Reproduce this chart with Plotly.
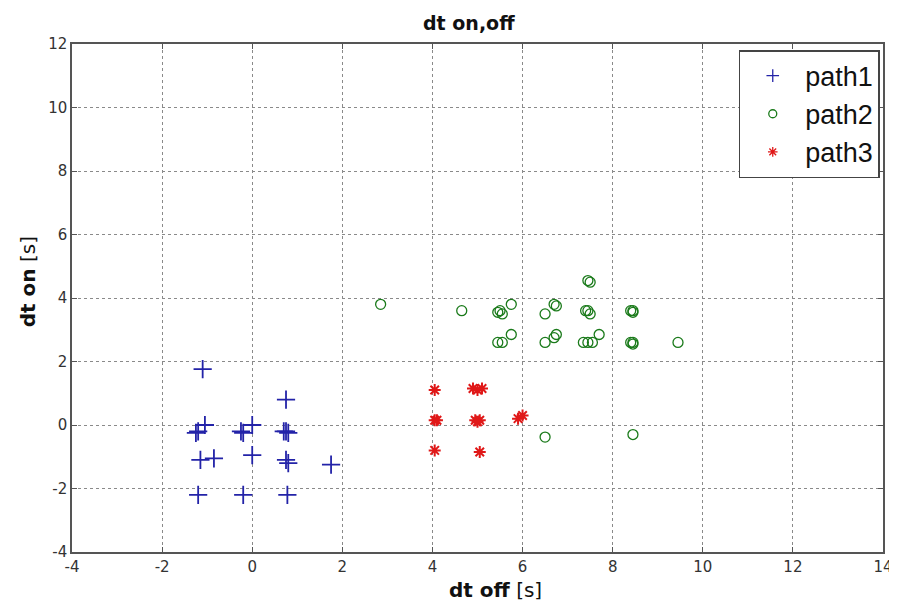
import plotly.graph_objects as go

path1_x = [-1.1, 0.75, -1.25, -1.2, -1.05, -0.25, -0.2, 0.0, 0.7, 0.8, 0.75,
           -1.15, -0.85, 0.0, 0.75, 0.8, 1.75, -1.2, -0.2, 0.78]
path1_y = [1.76, 0.8, -0.25, -0.2, 0.0, -0.2, -0.25, 0.0, -0.2, -0.25, -0.2,
           -1.1, -1.05, -0.95, -1.1, -1.2, -1.25, -2.2, -2.2, -2.2]

path2_x = [2.85, 4.65, 5.45, 5.5, 5.55, 5.75, 5.45, 5.55, 5.75,
           6.5, 6.7, 6.75, 6.5, 6.7, 6.75, 7.45, 7.5, 7.4, 7.45, 7.5,
           7.35, 7.45, 7.55, 7.7, 8.4, 8.45, 8.45, 8.4, 8.45, 8.45, 9.45, 6.5, 8.45]
path2_y = [3.8, 3.6, 3.55, 3.6, 3.5, 3.8, 2.6, 2.6, 2.85,
           3.5, 3.8, 3.75, 2.6, 2.75, 2.85, 4.55, 4.5, 3.6, 3.6, 3.5,
           2.6, 2.6, 2.6, 2.85, 3.6, 3.55, 3.6, 2.6, 2.55, 2.6, 2.6, -0.38, -0.3]

path3_x = [4.05, 4.9, 5.0, 5.1, 4.05, 4.1, 4.95, 5.05, 5.0, 5.9, 6.0, 4.05, 5.05]
path3_y = [1.1, 1.15, 1.1, 1.15, 0.15, 0.15, 0.15, 0.15, 0.1, 0.2, 0.3, -0.8, -0.85]

series_names = ["path1", "path2", "path3"]
x_ticks = [-4, -2, 0, 2, 4, 6, 8, 10, 12, 14]
y_ticks = [-4, -2, 0, 2, 4, 6, 8, 10, 12]

FONT = "DejaVu Sans, Verdana, sans-serif"
LEG_FONT = "Liberation Sans, Arial, sans-serif"
BLUE, GREEN, RED = "#2323a8", "#1a7a1a", "#e01818"

styles = [
    dict(symbol="cross-thin-open", color=BLUE, lw=1.8),
    dict(symbol="circle-open", color=GREEN, lw=1.3),
    dict(symbol="asterisk-open", color=RED, lw=2.0),
]
plot_sizes = [13, 10, 10]
legend_sizes = [9, 8, 8]

fig = go.Figure()
for (xs, ys), name, st, ps in zip([(path1_x, path1_y), (path2_x, path2_y), (path3_x, path3_y)],
                                  series_names, styles, plot_sizes):
    fig.add_trace(go.Scatter(x=xs, y=ys, mode="markers", name=name, showlegend=False,
                             legendgroup=name,
                             marker=dict(symbol=st["symbol"], size=ps, color=st["color"],
                                         line=dict(color=st["color"], width=st["lw"]))))
for name, st, ls in zip(series_names, styles, legend_sizes):
    fig.add_trace(go.Scatter(x=[None], y=[None], mode="markers", name=name, legendgroup=name,
                             marker=dict(symbol=st["symbol"], size=ls, color=st["color"],
                                         line=dict(color=st["color"], width=1.3))))

axis_common = dict(
    showgrid=True, gridcolor="#8a8a8a", griddash="dot", gridwidth=1,
    zeroline=False, showline=True, linecolor="#555555", linewidth=1.5, mirror="ticks",
    ticks="inside", ticklen=5, tickcolor="#555555",
    tickfont=dict(family=FONT, size=15, color="#333333"),
)

fig.update_layout(
    width=897, height=605,
    paper_bgcolor="white", plot_bgcolor="white",
    margin=dict(l=64, r=22, t=36, b=61),
    showlegend=True,
    legend=dict(x=0.996, xanchor="right", y=0.988, yanchor="top",
                bgcolor="white", bordercolor="#444444", borderwidth=1.5,
                font=dict(family=LEG_FONT, size=27, color="#111111"),
                itemwidth=55, tracegroupgap=0),
    xaxis=dict(range=[-4, 14], tickvals=x_ticks, ticktext=[str(v) for v in x_ticks], **axis_common),
    yaxis=dict(range=[-4, 12], tickvals=y_ticks, ticktext=[str(v) for v in y_ticks], **axis_common),
    annotations=[
        dict(text="<b>dt on,off</b>", x=0.49, xref="paper", y=1, yref="paper",
             yanchor="bottom", yshift=8, showarrow=False,
             font=dict(family=FONT, size=19, color="#111111")),
        dict(text="<b>dt off</b> [s]", x=0.522, xref="paper", y=0, yref="paper",
             yanchor="top", yshift=-24, showarrow=False,
             font=dict(family=FONT, size=20, color="#111111")),
        dict(text="<b>dt on</b> [s]", x=0, xref="paper", y=0.531, yref="paper",
             xanchor="right", xshift=-30, textangle=-90, showarrow=False,
             font=dict(family=FONT, size=20, color="#111111")),
    ],
)

fig.write_html("out.html")
